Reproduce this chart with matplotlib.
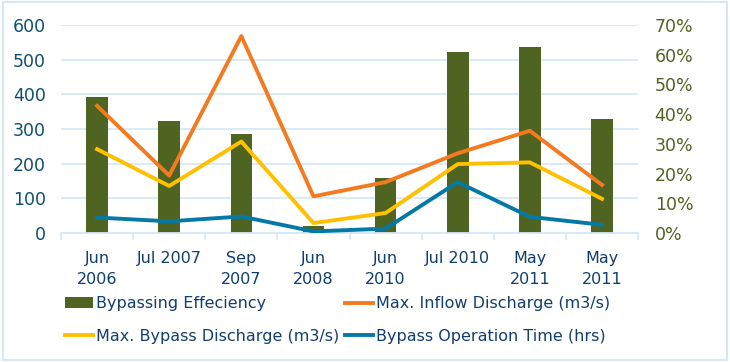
import matplotlib.pyplot as plt
import numpy as np
from matplotlib.patches import Rectangle

# ── Data ─────────────────────────────────────────────
categories = ["Jun\n2006", "Jul 2007", "Sep\n2007", "Jun\n2008",
              "Jun\n2010", "Jul 2010", "May\n2011", "May\n2011"]
efficiency = [45.7, 37.7, 33.4, 2.5, 18.5, 60.9, 62.6, 38.4]      # %
max_inflow = [367, 166, 568, 106, 147, 230, 295, 139]             # m3/s
max_bypass = [242, 136, 264, 29, 58, 199, 204, 99]                # m3/s
op_time = [45, 34, 48, 5, 13, 147, 47, 24]                        # hrs

left_ticks = [0, 100, 200, 300, 400, 500, 600]
right_ticks = [0, 10, 20, 30, 40, 50, 60, 70]

# ── Styles ───────────────────────────────────────────
plt.rcParams['font.family'] = ['DejaVu Sans']
C_BAR = "#506421"
C_ORANGE = "#F47A20"
C_YELLOW = "#FFC000"
C_BLUE = "#0579A6"
C_GRID = "#D5E8F8"
C_LEFT = "#0E4F72"
C_TEXT = "#123E6E"

fig = plt.figure(figsize=(7.3, 3.62), dpi=100)
fig.patches.append(Rectangle((0.004, 0.006), 0.992, 0.988, transform=fig.transFigure,
                             fill=False, edgecolor=C_GRID, lw=1.5))

ax = fig.add_axes([0.0836, 0.356, 0.7904, 0.575])
x = np.arange(len(categories))

# percentage axis on the right, mapped onto the left scale
to_pct = lambda v: v * 70 / 600
from_pct = lambda p: p * 600 / 70
ax2 = ax.secondary_yaxis('right', functions=(to_pct, from_pct))

ax.bar(x, from_pct(np.array(efficiency)), width=0.3, color=C_BAR, zorder=1,
       label="Bypassing Effeciency")
ax.plot(x, max_inflow, color=C_ORANGE, lw=2.8, zorder=3, label="Max. Inflow Discharge (m3/s)")
ax.plot(x, max_bypass, color=C_YELLOW, lw=2.8, zorder=3, label="Max. Bypass Discharge (m3/s)")
ax.plot(x, op_time, color=C_BLUE, lw=2.8, zorder=3, label="Bypass Operation Time (hrs)")

ax.set_ylim(0, 600)
ax.set_yticks(left_ticks)
ax.set_yticklabels([str(t) for t in left_ticks], fontsize=12.5, color=C_LEFT)
ax2.set_yticks(right_ticks)
ax2.set_yticklabels([f"{t}%" for t in right_ticks], fontsize=12.5, color=C_BAR)

ax.set_xlim(-0.5, len(categories) - 0.5)
ax.set_xticks(x)
ax.set_xticklabels(categories, fontsize=11.5, color=C_TEXT, linespacing=1.45)
ax.set_xticks(np.arange(-0.5, len(categories)), minor=True)
ax.tick_params(axis='x', which='major', length=0, pad=13)
ax.tick_params(axis='x', which='minor', length=5, color=C_GRID, width=1.2)
ax.tick_params(axis='y', length=0, pad=11)
ax2.tick_params(axis='y', length=0, pad=12)
ax.set_axisbelow(True)
ax.yaxis.grid(True, color=C_GRID, lw=1.3, zorder=0)

for s in ax.spines.values():
    s.set_visible(False)
ax2.spines['right'].set_visible(False)
ax.spines['bottom'].set_visible(True)
ax.spines['bottom'].set_color(C_GRID)
ax.spines['bottom'].set_linewidth(1.3)

# ── Legend (column-major order: bars, bypass | inflow, time) ──
h, l = ax.get_legend_handles_labels()
h_bar = ax.containers[0]
handles = [h_bar, h[1], h[0], h[2]]
labels = ["Bypassing Effeciency", l[1], l[0], l[2]]
fig.legend(handles, labels, ncol=2, loc='lower left', bbox_to_anchor=(0.07, 0.01),
           frameon=False, fontsize=11.5, labelcolor=C_TEXT,
           handlelength=1.75, handletextpad=0.15, columnspacing=0.4, labelspacing=1.1)

plt.savefig("out.png", dpi=100)
